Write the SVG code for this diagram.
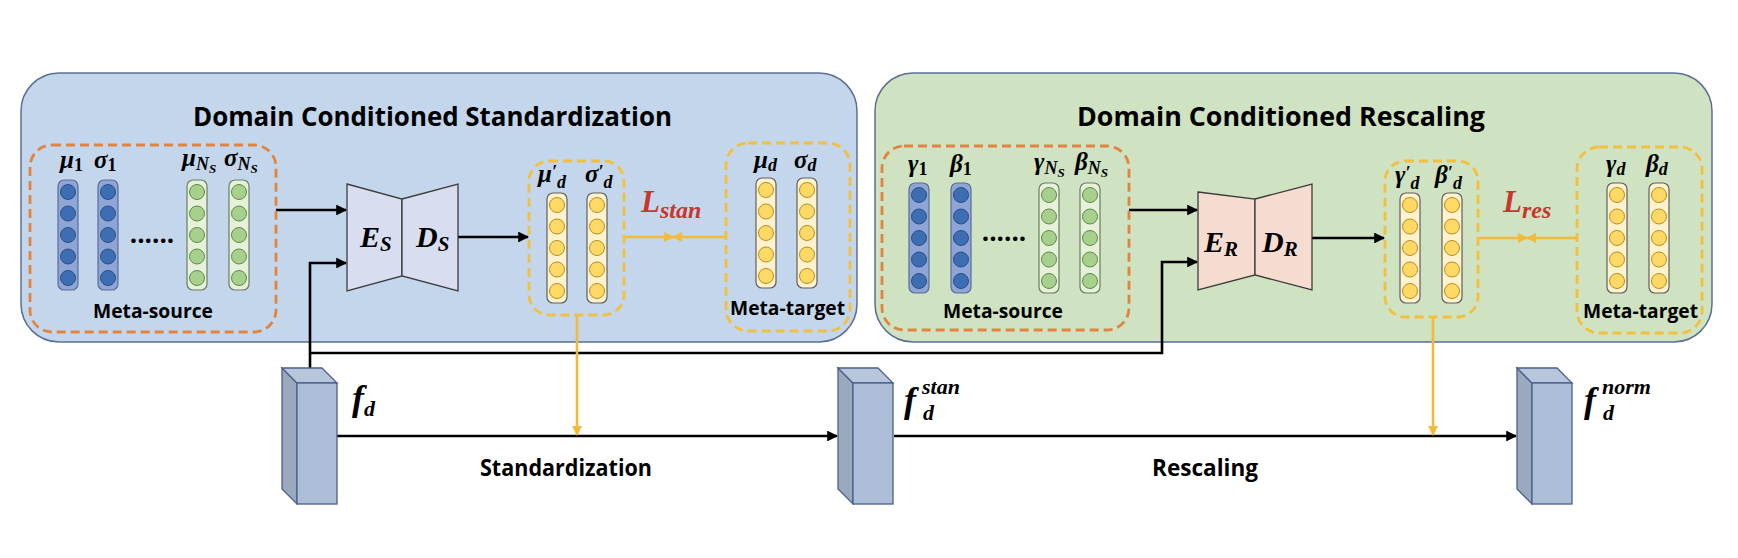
<svg xmlns="http://www.w3.org/2000/svg" xmlns:xlink="http://www.w3.org/1999/xlink" width="1738" height="558" viewBox="0 0 1738 558">
<style>
.panel{stroke:#5b6f92;stroke-width:1.5}
.title{font-family:"Open Sans","Liberation Sans",sans-serif;font-weight:bold;font-size:27px;fill:#000}
.lbl{font-family:"Open Sans","Liberation Sans",sans-serif;font-weight:bold;font-size:20px;fill:#000}
.op{font-family:"Open Sans","Liberation Sans",sans-serif;font-weight:bold;font-size:23px;fill:#000}
.dots{font-family:"Open Sans","Liberation Sans",sans-serif;font-weight:bold;font-size:26px;fill:#000}
.m{font-family:"Liberation Serif","DejaVu Serif",serif;font-weight:bold;font-style:italic;font-size:25px;fill:#000}
.sub{font-size:18px}
.up{font-style:normal}
.ssub{font-size:13px}
.big{font-family:"Liberation Serif","DejaVu Serif",serif;font-weight:bold;font-style:italic;font-size:30px;fill:#000}
.bsub{font-size:21px}
.ff{font-family:"Liberation Serif","DejaVu Serif",serif;font-weight:bold;font-style:italic;font-size:36px;fill:#000}
.fs{font-family:"Liberation Serif","DejaVu Serif",serif;font-weight:bold;font-style:italic;font-size:22px;fill:#000}
.loss{font-family:"Liberation Serif","DejaVu Serif",serif;font-weight:bold;font-style:italic;font-size:31px;fill:#c8372d}
.lsub{font-size:24px}
.orange{fill:none;stroke:#e2843f;stroke-width:2.8;stroke-dasharray:9 5}
.yellow{fill:none;stroke:#f2c03c;stroke-width:2.8;stroke-dasharray:9 5}
.blk{fill:none;stroke:#000;stroke-width:2.6}
.ylw{fill:none;stroke:#f0bb3a;stroke-width:2.6}
.enc{stroke:#3c3c3c;stroke-width:1.3}
.front{fill:#adbfd8;stroke:#4a5f8c;stroke-width:1.3}
.side{fill:#9ba9bf;stroke:#4a5f8c;stroke-width:1.3}
.top{fill:#b8c6db;stroke:#4a5f8c;stroke-width:1.3}
</style>
<defs>
<marker id="ah" viewBox="0 0 10 10" refX="9" refY="5" markerWidth="4.2" markerHeight="4.2" orient="auto" markerUnits="strokeWidth">
<path d="M0,0 L10,5 L0,10 z" fill="#000"/>
</marker>
<marker id="ahy" viewBox="0 0 10 10" refX="9" refY="5" markerWidth="4" markerHeight="4" orient="auto" markerUnits="strokeWidth">
<path d="M0,0 L10,5 L0,10 z" fill="#f0bb3a"/>
</marker>
<g id="colB">
<rect x="0" y="0" width="20" height="110" rx="6" fill="#8ea5d8" stroke="#5d6d99" stroke-width="1.2"/>
<g fill="#3d6eb4" stroke="#2e4f80" stroke-width="1"><circle cx="10" cy="12" r="7.5"/><circle cx="10" cy="33.5" r="7.5"/><circle cx="10" cy="55" r="7.5"/><circle cx="10" cy="76.5" r="7.5"/><circle cx="10" cy="98" r="7.5"/></g>
</g>
<g id="colG">
<rect x="0" y="0" width="20" height="110" rx="6" fill="#e6f1da" stroke="#6d7d62" stroke-width="1.2"/>
<g fill="#a8d08d" stroke="#5f8a49" stroke-width="1"><circle cx="10" cy="12" r="7.5"/><circle cx="10" cy="33.5" r="7.5"/><circle cx="10" cy="55" r="7.5"/><circle cx="10" cy="76.5" r="7.5"/><circle cx="10" cy="98" r="7.5"/></g>
</g>
<g id="colY">
<rect x="0" y="0" width="20" height="110" rx="6" fill="#fff2cc" stroke="#5f5f5f" stroke-width="1.2"/>
<g fill="#ffd966" stroke="#b58e1e" stroke-width="1"><circle cx="10" cy="12" r="7.5"/><circle cx="10" cy="33.5" r="7.5"/><circle cx="10" cy="55" r="7.5"/><circle cx="10" cy="76.5" r="7.5"/><circle cx="10" cy="98" r="7.5"/></g>
</g>
<g id="box">
<polygon class="side" points="0,0 15,15 15,136 0,121"/>
<polygon class="top" points="0,0 40,0 55,15 15,15"/>
<rect class="front" x="15" y="15" width="40" height="121"/>
</g>
</defs>

<g id="panel-standardization">
<rect class="panel" x="21" y="73" width="836" height="269" rx="38" fill="#c4d6eb"/>
<text class="title" x="193" y="126" textLength="479" lengthAdjust="spacingAndGlyphs">Domain Conditioned Standardization</text>
</g>
<g id="panel-rescaling">
<rect class="panel" x="875" y="73" width="837" height="269" rx="38" fill="#cfe2c1"/>
<text class="title" x="1077" y="126" textLength="408" lengthAdjust="spacingAndGlyphs">Domain Conditioned Rescaling</text>
</g>

<g id="connectors">
<line class="blk" x1="276" y1="210" x2="346" y2="210" marker-end="url(#ah)"/>
<line class="blk" x1="458" y1="237" x2="528" y2="237" marker-end="url(#ah)"/>
<polyline class="blk" points="310,368 310,263 346,263" marker-end="url(#ah)"/>
<polyline class="blk" points="310,353 1162,353 1162,262 1197,262" marker-end="url(#ah)"/>
<line class="blk" x1="1129" y1="210" x2="1197" y2="210" marker-end="url(#ah)"/>
<line class="blk" x1="1312" y1="238" x2="1384" y2="238" marker-end="url(#ah)"/>
<line class="blk" x1="337" y1="436" x2="837" y2="436" marker-end="url(#ah)"/>
<line class="blk" x1="894" y1="436" x2="1516" y2="436" marker-end="url(#ah)"/>
<line class="ylw" x1="577" y1="315" x2="577" y2="435" marker-end="url(#ahy)"/>
<line class="ylw" x1="1433" y1="317" x2="1433" y2="435" marker-end="url(#ahy)"/>
<line class="ylw" x1="624" y1="237" x2="673" y2="237" marker-end="url(#ahy)"/>
<line class="ylw" x1="726" y1="237" x2="673" y2="237" marker-end="url(#ahy)"/>
<line class="ylw" x1="1478" y1="238" x2="1527" y2="238" marker-end="url(#ahy)"/>
<line class="ylw" x1="1577" y1="238" x2="1527" y2="238" marker-end="url(#ahy)"/>
</g>

<g id="meta-source-s">
<rect class="orange" x="30" y="145" width="246" height="187" rx="22"/>
<use xlink:href="#colB" x="58" y="180"/>
<use xlink:href="#colB" x="98" y="180"/>
<use xlink:href="#colG" x="187" y="180"/>
<use xlink:href="#colG" x="229" y="180"/>
<text class="dots" x="152" y="243" text-anchor="middle">......</text>
<text class="m" x="60" y="168">μ<tspan class="sub up" dy="3">1</tspan></text>
<text class="m" x="94" y="168">σ<tspan class="sub up" dy="3">1</tspan></text>
<text class="m" x="182" y="166">μ<tspan class="sub" dy="4">N</tspan><tspan class="ssub" dy="3">S</tspan></text>
<text class="m" x="224" y="166">σ<tspan class="sub" dy="4">N</tspan><tspan class="ssub" dy="3">S</tspan></text>
<text class="lbl" x="93" y="318" textLength="120" lengthAdjust="spacingAndGlyphs">Meta-source</text>
</g>

<g id="encoder-s">
<polygon class="enc" points="347,184 402,199 402,276 347,291" fill="#d8def0"/>
<polygon class="enc" points="402,199 458,184 458,291 402,276" fill="#d8def0"/>
<text class="big" x="360" y="247">E<tspan class="bsub" dy="4">S</tspan></text>
<text class="big" x="416" y="247">D<tspan class="bsub" dy="4">S</tspan></text>
</g>

<g id="pred-s">
<rect class="yellow" x="529" y="161" width="95" height="154" rx="20"/>
<use xlink:href="#colY" x="547" y="193"/>
<use xlink:href="#colY" x="587" y="193"/>
<text class="m" x="538" y="182">μ<tspan class="sub" dy="-4">′</tspan><tspan class="sub" dy="10">d</tspan></text>
<text class="m" x="585" y="182">σ<tspan class="sub" dy="-4">′</tspan><tspan class="sub" dy="10">d</tspan></text>
</g>

<g id="loss-stan">
<text class="loss" x="641" y="212">L<tspan class="lsub" dy="6">stan</tspan></text>
</g>

<g id="meta-target-s">
<rect class="yellow" x="726" y="143" width="124" height="188" rx="22"/>
<use xlink:href="#colY" x="756" y="178"/>
<use xlink:href="#colY" x="797" y="178"/>
<text class="m" x="754" y="168">μ<tspan class="sub" dy="3">d</tspan></text>
<text class="m" x="794" y="168">σ<tspan class="sub" dy="3">d</tspan></text>
<text class="lbl" x="730" y="315" textLength="115" lengthAdjust="spacingAndGlyphs">Meta-target</text>
</g>

<g id="meta-source-r">
<rect class="orange" x="882" y="146" width="247" height="184" rx="22"/>
<use xlink:href="#colB" x="909" y="183"/>
<use xlink:href="#colB" x="951" y="183"/>
<use xlink:href="#colG" x="1039" y="183"/>
<use xlink:href="#colG" x="1080" y="183"/>
<text class="dots" x="1004" y="241" text-anchor="middle">......</text>
<text class="m" x="908" y="172">γ<tspan class="sub up" dy="3">1</tspan></text>
<text class="m" x="950" y="172">β<tspan class="sub up" dy="3">1</tspan></text>
<text class="m" x="1034" y="170">γ<tspan class="sub" dy="4">N</tspan><tspan class="ssub" dy="3">S</tspan></text>
<text class="m" x="1075" y="170">β<tspan class="sub" dy="4">N</tspan><tspan class="ssub" dy="3">S</tspan></text>
<text class="lbl" x="943" y="318" textLength="120" lengthAdjust="spacingAndGlyphs">Meta-source</text>
</g>

<g id="encoder-r">
<polygon class="enc" points="1198,192 1255,199 1255,275 1198,290" fill="#f6dcd0"/>
<polygon class="enc" points="1255,199 1312,184 1312,290 1255,275" fill="#f6dcd0"/>
<text class="big" x="1204" y="252">E<tspan class="bsub" dy="4">R</tspan></text>
<text class="big" x="1262" y="252">D<tspan class="bsub" dy="4">R</tspan></text>
</g>

<g id="pred-r">
<rect class="yellow" x="1385" y="161" width="93" height="156" rx="20"/>
<use xlink:href="#colY" x="1400" y="193"/>
<use xlink:href="#colY" x="1442" y="193"/>
<text class="m" x="1395" y="183">γ<tspan class="sub" dy="-4">′</tspan><tspan class="sub" dy="10">d</tspan></text>
<text class="m" x="1435" y="183">β<tspan class="sub" dy="-4">′</tspan><tspan class="sub" dy="10">d</tspan></text>
</g>

<g id="loss-res">
<text class="loss" x="1503" y="212">L<tspan class="lsub" dy="6">res</tspan></text>
</g>

<g id="meta-target-r">
<rect class="yellow" x="1577" y="147" width="125" height="186" rx="22"/>
<use xlink:href="#colY" x="1607" y="183"/>
<use xlink:href="#colY" x="1649" y="183"/>
<text class="m" x="1606" y="172">γ<tspan class="sub" dy="3">d</tspan></text>
<text class="m" x="1646" y="172">β<tspan class="sub" dy="3">d</tspan></text>
<text class="lbl" x="1583" y="318" textLength="115" lengthAdjust="spacingAndGlyphs">Meta-target</text>
</g>

<g id="f-d">
<use xlink:href="#box" x="282" y="368"/>
<text class="ff" x="352" y="410">f<tspan style="font-size:22px" dy="6">d</tspan></text>
</g>

<g id="f-stan">
<use xlink:href="#box" x="838" y="368"/>
<text class="ff" x="904" y="412">f</text>
<text class="fs" x="922" y="394">stan</text>
<text class="fs" x="923" y="420">d</text>
</g>

<g id="f-norm">
<use xlink:href="#box" x="1517" y="368"/>
<text class="ff" x="1584" y="412">f</text>
<text class="fs" x="1602" y="394">norm</text>
<text class="fs" x="1603" y="420">d</text>
</g>

<g id="op-labels">
<text class="op" x="480" y="476" textLength="172" lengthAdjust="spacingAndGlyphs">Standardization</text>
<text class="op" x="1152" y="476" textLength="106" lengthAdjust="spacingAndGlyphs">Rescaling</text>
</g>
</svg>
